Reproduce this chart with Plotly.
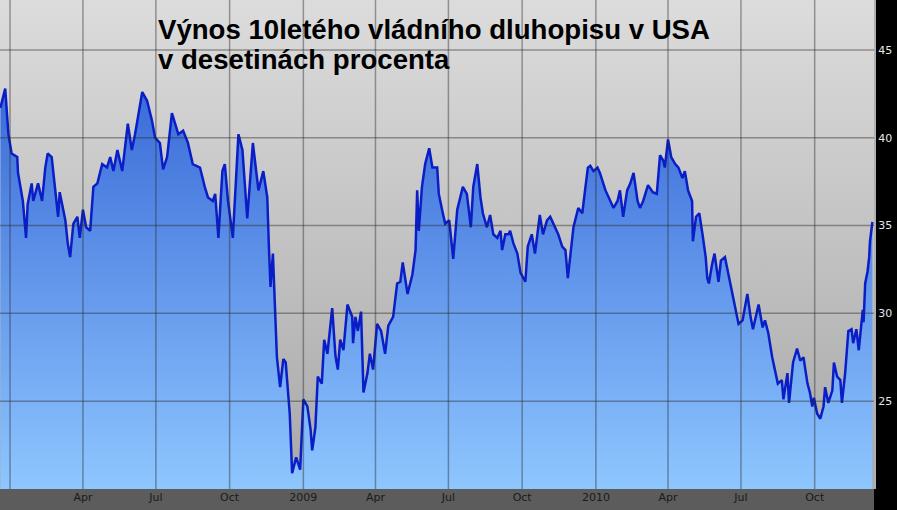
import pandas as pd
import plotly.graph_objects as go

# ---- data (days since 2008-01-01, yield in tenths of a percent) ----
days = [-12, -6, -2, 2, 9, 10, 16, 20, 22, 27, 29, 35, 40, 44, 47, 52, 56, 60, 62, 69,
        72, 75, 79, 84, 87, 91, 95, 100, 104, 109, 115, 121, 125, 129, 134, 140, 147, 152, 156, 165,
        171, 177, 181, 187, 191, 196, 202, 206, 210, 216, 222, 228, 237, 243, 247, 253, 256, 260, 265, 268,
        272, 278, 285, 290, 296, 303, 310, 316, 321, 323, 325, 328, 333, 337, 341, 344, 347, 349, 352, 357,
        362, 366, 371, 375, 377, 381, 384, 389, 392, 396, 402, 406, 409, 412, 416, 421, 427, 428, 431, 434,
        438, 441, 446, 449, 453, 458, 463, 468, 472, 478, 483, 487, 490, 496, 502, 506, 508, 510, 514, 518,
        523, 527, 533, 535, 540, 543, 548, 553, 558, 562, 565, 570, 575, 578, 583, 587, 590, 595, 599, 603,
        608, 612, 614, 618, 622, 624, 628, 633, 637, 643, 646, 651, 655, 661, 665, 670, 674, 680, 684, 689,
        693, 696, 703, 709, 714, 718, 721, 724, 728, 733, 736, 743, 749, 753, 758, 761, 765, 770, 774, 778,
        783, 786, 790, 796, 802, 807, 811, 815, 817, 821, 825, 830, 834, 839, 842, 846, 851, 852, 856, 860,
        864, 868, 870, 872, 876, 879, 884, 887, 892, 896, 901, 906, 909, 914, 920, 924, 927, 934, 939, 942,
        946, 951, 955, 958, 963, 965, 970, 972, 977, 982, 986, 990, 995, 998, 1001, 1003, 1007, 1011, 1015, 1017,
        1021, 1026, 1028, 1032, 1036, 1038, 1042, 1046, 1050, 1052, 1056, 1059, 1064, 1065, 1067, 1070, 1072, 1073, 1076]
values = [41.7, 42.8, 40.2, 39.1, 38.9, 38.0, 36.4, 34.3, 36.2, 37.4, 36.4, 37.4, 36.4, 38.3, 39.1, 38.9, 37.2, 35.5, 36.9, 35.3,
          34.0, 33.2, 35.1, 35.5, 34.3, 35.9, 34.9, 34.7, 37.2, 37.4, 38.5, 38.3, 38.9, 38.1, 39.3, 38.1, 40.8, 39.3, 40.2, 42.6,
          42.1, 41.0, 40.0, 39.7, 38.2, 38.9, 41.4, 40.8, 40.2, 40.4, 39.7, 38.5, 38.3, 37.2, 36.6, 36.4, 36.8, 34.3, 38.1, 38.5,
          36.4, 34.3, 40.2, 39.3, 35.4, 39.7, 37.0, 38.1, 36.6, 33.8, 31.5, 33.4, 27.5, 25.8, 27.4, 27.2, 25.6, 24.3, 20.9, 21.8,
          21.1, 25.1, 24.7, 23.4, 22.2, 23.5, 26.4, 26.0, 28.5, 27.7, 30.3, 27.6, 26.8, 28.5, 27.9, 30.5, 29.8, 28.3, 29.8, 29.0,
          30.1, 25.5, 26.6, 27.7, 26.8, 29.4, 29.0, 27.7, 29.3, 29.8, 31.7, 31.8, 32.9, 31.1, 32.2, 33.6, 37.0, 34.7, 37.2, 38.5,
          39.4, 38.3, 38.3, 36.8, 35.7, 35.1, 35.3, 33.1, 35.9, 36.6, 37.2, 36.8, 34.9, 37.2, 38.5, 36.6, 35.7, 34.9, 35.6, 34.5,
          34.3, 34.7, 33.6, 34.5, 34.5, 34.7, 34.0, 33.4, 32.3, 31.8, 33.8, 34.5, 33.4, 35.6, 34.5, 35.3, 35.5, 34.9, 34.5, 33.8,
          33.6, 32.0, 34.9, 36.0, 35.7, 37.2, 38.3, 38.4, 38.1, 38.3, 38.0, 37.0, 36.4, 36.0, 36.4, 37.0, 35.5, 37.0, 37.4, 38.0,
          36.4, 36.0, 36.4, 37.3, 36.9, 36.8, 39.0, 38.7, 38.3, 39.9, 38.9, 38.5, 38.3, 37.7, 38.1, 37.0, 36.4, 34.1, 35.5, 35.7,
          34.5, 33.2, 32.0, 31.7, 32.8, 33.4, 31.8, 33.0, 33.2, 32.3, 31.3, 30.0, 29.4, 29.6, 31.1, 29.8, 29.1, 30.5, 29.2, 29.6,
          28.9, 27.5, 26.6, 26.0, 26.2, 25.1, 26.6, 24.9, 27.2, 28.0, 27.3, 27.5, 26.0, 25.5, 24.7, 25.2, 24.3, 24.0, 24.7, 25.8,
          24.9, 25.6, 27.2, 26.4, 26.2, 24.9, 26.6, 29.0, 29.1, 28.3, 29.1, 27.9, 30.2, 29.5, 31.7, 32.4, 33.2, 34.1, 35.2]

tick_dates = ["2008-01-01", "2008-04-01", "2008-07-01", "2008-10-01",
              "2009-01-01", "2009-04-01", "2009-07-01", "2009-10-01",
              "2010-01-01", "2010-04-01", "2010-07-01", "2010-10-01"]
tick_labels = ["", "Apr", "Jul", "Oct", "2009", "Apr", "Jul", "Oct", "2010", "Apr", "Jul", "Oct"]
y_ticks = [25, 30, 35, 40, 45]
title_lines = ["Výnos 10letého vládního dluhopisu v USA", "v desetinách procenta"]

start = pd.Timestamp("2008-01-01")
dates = [start + pd.Timedelta(days=d) for d in days]
x_range = ["2007-12-19 12:00", "2010-12-14"]
y_range = [20, 47.84]

W, H = 897, 510
ML, MR, MT, MB = 0, 23, 0, 21
plot_h = H - MT - MB
plot_w = W - ML - MR

fig = go.Figure()

# gray gradient background of the plot area
fig.add_trace(go.Scatter(
    x=x_range, y=[y_range[1], y_range[1]], mode="lines",
    line=dict(width=0), fill="tozeroy",
    fillgradient=dict(type="vertical", colorscale=[[0, "#a8a8a8"], [1, "#dcdcdc"]],
                      start=y_range[0], stop=y_range[1]),
    hoverinfo="skip", showlegend=False))

# yield area
fig.add_trace(go.Scatter(
    x=dates, y=values, mode="lines",
    line=dict(color="#0a1ec8", width=2.5),
    fill="tozeroy",
    fillgradient=dict(type="vertical", colorscale=[[0, "#8ec6ff"], [1, "#3666d6"]],
                      start=y_range[0], stop=44),
    showlegend=False))

grid_color = "rgba(40,40,40,0.42)"
shapes = []
for yv in y_ticks:
    shapes.append(dict(type="line", xref="paper", x0=0, x1=1, yref="y", y0=yv, y1=yv,
                       line=dict(color=grid_color, width=1.5), layer="above"))
for xv in tick_dates:
    shapes.append(dict(type="line", xref="x", x0=xv, x1=xv, yref="paper", y0=0, y1=1,
                       line=dict(color=grid_color, width=1.5), layer="above"))
# bottom axis strip
shapes.append(dict(type="rect", xref="paper", x0=0, x1=1, yref="paper",
                   y0=-MB / plot_h, y1=0, fillcolor="#5c5c5c", line=dict(width=0), layer="below"))

annotations = []
for txt, ypx in zip(title_lines, [29, 60]):
    annotations.append(dict(text="<b>" + txt + "</b>", xref="paper", yref="paper",
                            x=156 / plot_w, y=1 - ypx / plot_h,
                            xanchor="left", yanchor="middle", showarrow=False,
                            font=dict(family="Liberation Sans, Arial", size=27.6, color="#000000")))

fig.update_layout(
    width=W, height=H,
    margin=dict(l=ML, r=MR, t=MT, b=MB, pad=0),
    paper_bgcolor="#000000", plot_bgcolor="#c0c0c0",
    shapes=shapes, annotations=annotations,
    xaxis=dict(type="date", range=x_range, tickvals=tick_dates, ticktext=tick_labels,
               showgrid=False, zeroline=False, showline=False, ticks="",
               tickfont=dict(family="DejaVu Sans, Verdana", size=11, color="#1a1a1a")),
    yaxis=dict(range=y_range, side="right", tickvals=y_ticks, showgrid=False, zeroline=False,
               showline=True, linecolor="#b0b0b0", linewidth=2, ticks="",
               tickfont=dict(family="DejaVu Sans, Verdana", size=11, color="#e6e6e6")),
)

fig.write_html("out.html", config={"displayModeBar": False},
               post_script="document.body.style.margin='0';document.body.style.overflow='hidden';")
